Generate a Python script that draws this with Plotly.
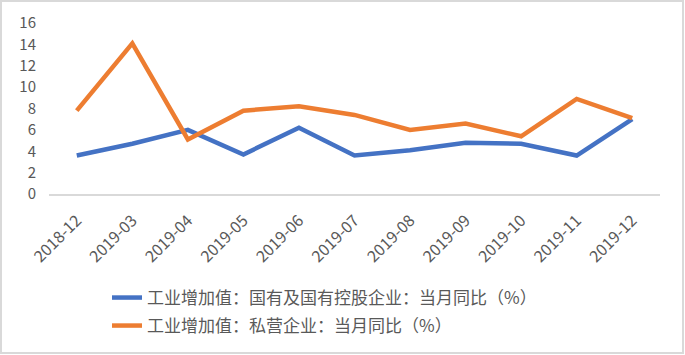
import plotly.graph_objects as go

months = ["2018-12", "2019-03", "2019-04", "2019-05", "2019-06", "2019-07",
          "2019-08", "2019-09", "2019-10", "2019-11", "2019-12"]
state_owned = [3.6, 4.7, 6.0, 3.7, 6.2, 3.6, 4.1, 4.8, 4.7, 3.6, 7.0]
private = [7.8, 14.1, 5.1, 7.8, 8.2, 7.4, 6.0, 6.6, 5.4, 8.9, 7.1]
series_names = ["工业增加值：国有及国有控股企业：当月同比（%）",
                "工业增加值：私营企业：当月同比（%）"]
y_ticks = [0, 2, 4, 6, 8, 10, 12, 14, 16]

W, H = 685, 355
ML, MR, MT, MB = 49, 25, 23, 161
PW, PH = W - ML - MR, H - MT - MB

font_family = "Noto Sans CJK SC, Noto Sans, sans-serif"


def py(pix):
    return (H - MB - pix) / PH


def px(pix):
    return (pix - ML) / PW


fig = go.Figure()
fig.add_trace(go.Scatter(x=months, y=state_owned, mode="lines", name=series_names[0],
                         line=dict(color="#4472C4", width=4.5), legend="legend"))
fig.add_trace(go.Scatter(x=months, y=private, mode="lines", name=series_names[1],
                         line=dict(color="#ED7D31", width=4.5), legend="legend2"))

# outer chart border
fig.add_shape(type="rect", xref="paper", yref="paper",
              x0=px(1), x1=px(W - 2), y0=py(H - 2), y1=py(1),
              line=dict(color="#D9D9D9", width=2), fillcolor="rgba(0,0,0,0)", layer="below")

legend_style = dict(orientation="v", xanchor="left", yanchor="middle",
                    font=dict(size=17, color="#595959"), bgcolor="rgba(0,0,0,0)")

fig.update_layout(
    width=W, height=H,
    margin=dict(l=ML, r=MR, t=MT, b=MB, autoexpand=False),
    paper_bgcolor="white", plot_bgcolor="white",
    font=dict(family=font_family, color="#595959"),
    showlegend=True,
    legend=dict(x=px(107), y=py(298), **legend_style),
    legend2=dict(x=px(107), y=py(326), **legend_style),
    xaxis=dict(type="category", range=[-0.5, len(months) - 0.5], showgrid=False,
               showline=True, linecolor="#D9D9D9", linewidth=1.5, ticks="",
               tickangle=-45, tickfont=dict(size=16, color="#595959"),
               ticklabelstandoff=9, zeroline=False, automargin=False),
    yaxis=dict(range=[0, 16], tickvals=y_ticks, showgrid=False, zeroline=False,
               showline=False, ticks="", tickfont=dict(size=15, color="#595959"),
               ticklabelstandoff=12, automargin=False),
)

fig.write_html("out.html", config={"displayModeBar": False},
               post_script="document.body.style.margin='0';document.body.style.overflow='hidden';")
